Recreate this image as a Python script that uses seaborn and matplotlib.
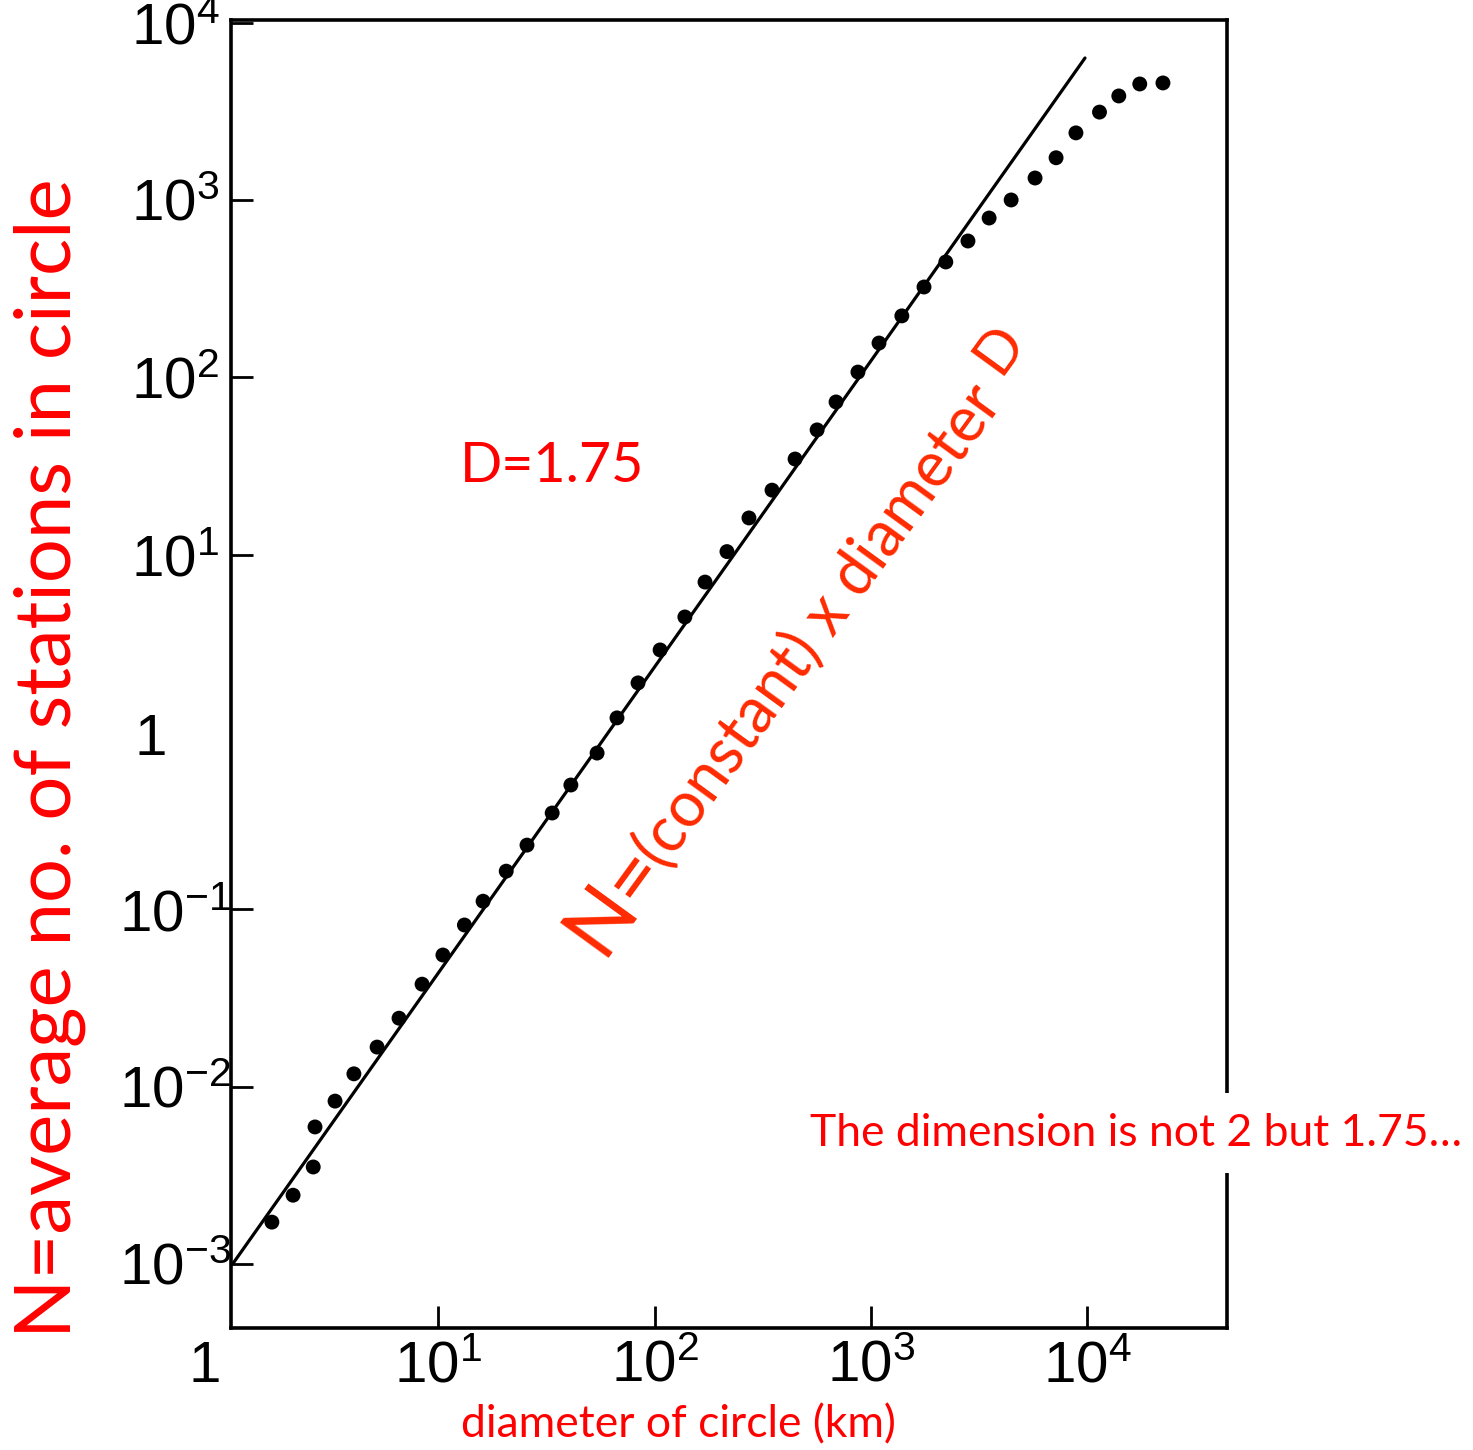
import numpy as np
import pandas as pd
import matplotlib
import matplotlib.pyplot as plt
import seaborn as sns
from matplotlib.ticker import NullLocator

diameter_km = [1.70, 2.13, 2.64, 2.69, 3.33, 4.07, 5.21, 6.58, 8.41, 10.5,
               13.2, 16.1, 20.6, 25.7, 33.6, 41.0, 54.2, 67.0, 83.8, 106,
               138, 171, 216, 273, 349, 446, 564, 690, 871, 1090,
               1390, 1760, 2220, 2810, 3520, 4450, 5740, 7180, 8870, 11400,
               14000, 17500, 22400]
stations = [1.72e-3, 2.44e-3, 3.52e-3, 5.92e-3, 8.28e-3, 0.0118, 0.0167, 0.0243, 0.0378, 0.0552,
            0.0815, 0.111, 0.164, 0.230, 0.349, 0.502, 0.760, 1.20, 1.89, 2.90,
            4.45, 7.00, 10.4, 16.1, 23.1, 34.6, 50.5, 72.6, 107, 156,
            222, 323, 447, 587, 791, 1000, 1330, 1730, 2390, 3130,
            3860, 4510, 4570]

# 직선 (N = const x d^D)
fit_diameter = [1.12, 9770]
fit_stations = [1.0e-3, 6320]

x_ticks = [10, 100, 1000, 10000]
x_tick_labels = [r'$10^{1}$', r'$10^{2}$', r'$10^{3}$', r'$10^{4}$']
y_ticks = [1e-3, 1e-2, 1e-1, 1e1, 1e2, 1e3, 1e4]
y_tick_labels = [r'$10^{-3}$', r'$10^{-2}$', r'$10^{-1}$',
                 r'$10^{1}$', r'$10^{2}$', r'$10^{3}$', r'$10^{4}$']

W, H = 1473, 1450


def px(x, y):
    # 픽셀 좌표 -> figure 비율
    return x / W, 1 - y / H


sns.set_style('ticks')
plt.rcParams['font.family'] = ['Liberation Sans', 'DejaVu Sans']
plt.rcParams['mathtext.fontset'] = 'custom'
plt.rcParams['mathtext.rm'] = 'Liberation Sans'
plt.rcParams['mathtext.default'] = 'regular'

fig = plt.figure(figsize=(W / 100, H / 100), dpi=100)
ax = fig.add_axes([231 / W, 1 - 1328 / H, (1227 - 231) / W, (1328 - 20) / H])
ax.set_xscale('log')
ax.set_yscale('log')

sns.lineplot(x=fit_diameter, y=fit_stations, ax=ax, color='black', linewidth=2.3)
sns.scatterplot(x=diameter_km, y=stations, ax=ax, color='black', s=115,
                edgecolor='none', zorder=3)

ax.set_xlim(1.10, 44300)
ax.set_ylim(4.35e-4, 10350)
ax.xaxis.set_minor_locator(NullLocator())
ax.yaxis.set_minor_locator(NullLocator())
ax.set_xticks(x_ticks)
ax.set_xticklabels(x_tick_labels)
ax.set_yticks(y_ticks)
ax.set_yticklabels(y_tick_labels, ha='center')
ax.tick_params(direction='in', length=16, width=2, labelsize=42, colors='black')
ax.tick_params(axis='x', pad=8)
ax.tick_params(axis='y', pad=40)
for s in ax.spines.values():
    s.set_linewidth(2.6)
    s.set_color('black')

# '1' 라벨
ax.text(-0.026, -0.03, '1', transform=ax.transAxes, fontsize=42,
        color='black', ha='center', va='center')
ax.text(-0.081, 0.4495, '1', transform=ax.transAxes, fontsize=42,
        color='black', ha='center', va='center')

red = '#ff0000'
fig.text(*px(50, 758), 'N=average no. of stations in circle', rotation=90,
         family='Lato', fontsize=56, color=red, ha='center', va='center')
fig.text(*px(678, 1425), 'diameter of circle (km)', family='Lato', fontsize=32,
         color=red, ha='center', va='center',
         bbox=dict(facecolor='white', edgecolor='none', pad=14))
fig.text(*px(460, 482), 'D=1.75', family='Lato', fontsize=40, color=red,
         ha='left', va='baseline')
fig.text(*px(810, 1133), 'The dimension is not 2 but 1.75…', family='Lato',
         fontsize=32, color=red, ha='left', va='center',
         bbox=dict(facecolor='white', edgecolor='none', pad=14))

# 기울어진 식
orange = '#ff2a00'
ang = 54
fig.text(*px(601, 958), 'N=', family='Lato', fontsize=60, color=orange,
         rotation=ang, rotation_mode='anchor', ha='left', va='baseline')
fig.text(*px(664, 871), '(constant) x diameter', family='Lato', fontsize=45,
         color=orange, rotation=ang, rotation_mode='anchor', ha='left', va='baseline')
fig.text(*px(1000, 376), 'D', family='Lato', fontsize=42, color=orange,
         rotation=ang, rotation_mode='anchor', ha='left', va='baseline')

fig.savefig('out.png', dpi=100)
